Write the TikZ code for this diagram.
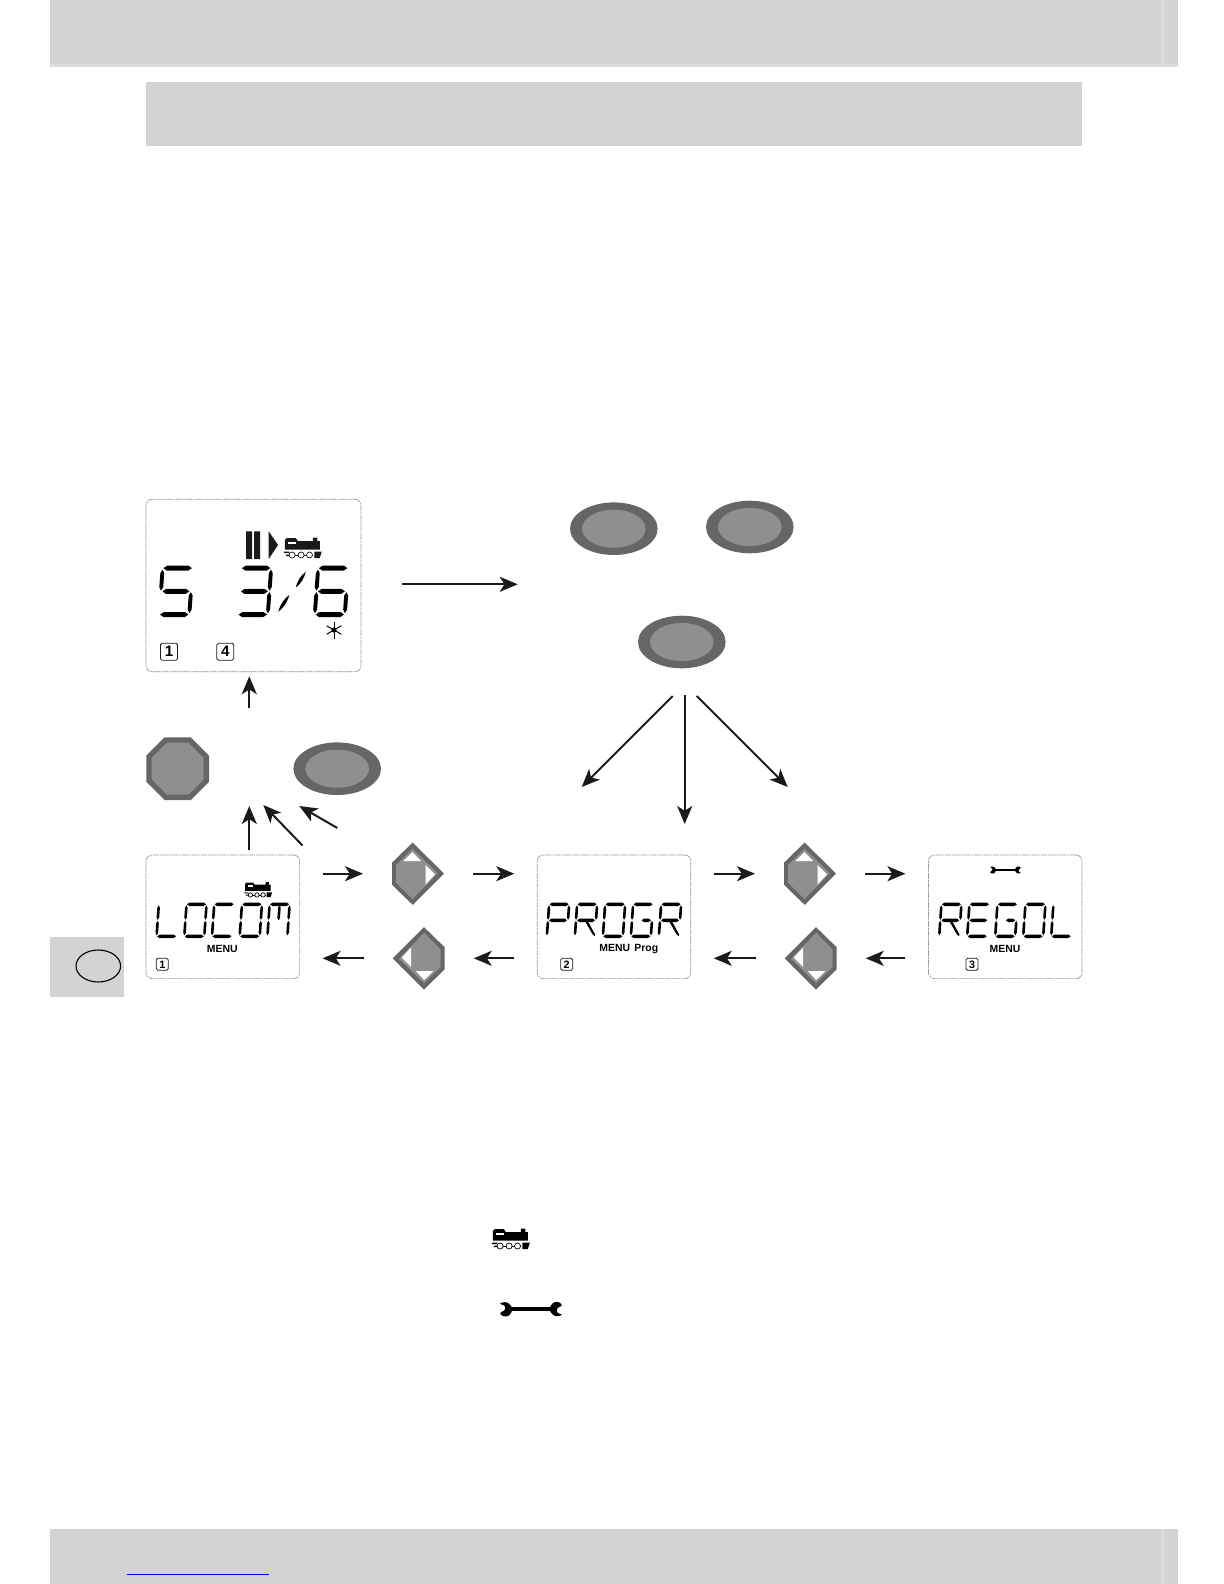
\documentclass[tikz,border=0pt]{standalone}
\usepackage{fontspec}
\setsansfont{Liberation Sans}
\usetikzlibrary{arrows.meta,positioning,shapes.geometric,calc}
\definecolor{band}{HTML}{d3d3d3}
\definecolor{bandlight}{HTML}{dcdcdc}
\definecolor{ink}{HTML}{1a1a1a}
\definecolor{keyrim}{HTML}{666666}
\definecolor{keyface}{HTML}{8f8f8f}
\definecolor{lcdrim}{HTML}{9a9a9a}
\definecolor{linkblue}{HTML}{0000e0}

\newcommand{\segH}[3]{\fill (#1,#3) -- (#1+2.4,#3-1.7) -- (#2-2.4,#3-1.7) -- (#2,#3) -- (#2-2.4,#3+1.7) -- (#1+2.4,#3+1.7) -- cycle;}
\newcommand{\segV}[3]{\fill (#1,#2) -- (#1+1.3,#2+2.4) -- (#1+1.3,#3-2.4) -- (#1,#3) -- (#1-1.3,#3-2.4) -- (#1-1.3,#2+2.4) -- cycle;}
\newcommand{\segA}{\segH{1}{20}{1}}
\newcommand{\segB}{\segV{20.5}{2}{16.5}}
\newcommand{\segC}{\segV{20.5}{17.5}{32}}
\newcommand{\segD}{\segH{1}{20}{33}}
\newcommand{\segE}{\segV{.5}{17.5}{32}}
\newcommand{\segF}{\segV{.5}{2}{16.5}}
\newcommand{\segG}{\segH{1.5}{19.5}{17}}
\newcommand{\segGr}{\segH{10}{19.5}{17}}
\newcommand{\segK}{\fill (10,18.5) -- (12.5,18) -- (20.5,31) -- (20.5,33) -- (18,31) -- cycle;}
\newcommand{\glyphL}{\segF\segE\segD}
\newcommand{\glyphO}{\segA\segB\segC\segD\segE\segF}
\newcommand{\glyphC}{\segA\segD\segE\segF}
\newcommand{\glyphM}{\segA\segB\segC\segE\segF\segV{10.5}{2}{17}}
\newcommand{\glyphP}{\segA\segB\segE\segF\segG}
\newcommand{\glyphR}{\segA\segB\segE\segF\segG\segK}
\newcommand{\glyphG}{\segA\segC\segD\segE\segF\segGr}
\newcommand{\glyphE}{\segA\segD\segE\segF\segG}
\newcommand{\glyphS}{\segA\segC\segD\segF\segG}
\newcommand{\glyphT}{\segA\segB\segC\segD\segG}
\newcommand{\glyphB}{\segA\segC\segD\segE\segF\segG}
\newcommand{\lcdword}[4]{\foreach \ltr/\xx in {#1} {
    \begin{scope}[shift={(\xx,#2)},xscale=#3,yscale=#4,xslant=.07]
      \csname glyph\ltr\endcsname
    \end{scope}}}
\newcommand{\ovalbtn}[2]{\node[ovalrim] (#1) at (#2) {};
  \node[ovalface] at (#1.center) {};}

\tikzset{
  loco/.pic={
    \fill (-18,-8) -- (-16,-10) -- (-7,-10) -- (-5,-7) -- (10,-7) -- (10,-10.5) -- (14.5,-10.5) -- (14.5,-7) -- (17,-7) -- (17,1.5) -- (-18,1.5) -- cycle;
    \fill[white] (-14.5,-6.5) rectangle (-7,-4.5);
    \fill (-19,3.5) rectangle (-13.5,5) (-17,6.5) rectangle (-13.5,8);
    \draw[line width=.3pt] (-13.5,7) -- (10,7);
    \foreach \wx in {-10.7,-1.7,6.7} \draw[line width=.35pt, fill=white] (\wx,7) circle[radius=3];
    \fill (11.5,3.5) -- (19,3.5) -- (17,10) -- (11.5,10) -- cycle;
  },
  spanner/.pic={
    \fill (-20,-2.2) rectangle (20,2.2);
    \foreach \rr in {0,180} {
      \fill[rotate=\rr, rounded corners=.5pt] (-19,-2.2) -- (-23,-6.5) -- (-27,-7.2) -- (-31.5,-5.5) -- (-26,-3.5) -- (-26,1) -- (-31,3.5) -- (-30,6) -- (-26,7.5) -- (-22,6.5) -- (-19,2.2) -- cycle;
    }
  },
  navkey/.pic={
    \node[keybox] (-box) {};
    \fill[keyrim] (-5.3,-31.2) -- (26,0) -- (-5.3,31.2) -- (-26,11) -- (-26,-11) -- cycle;
    \fill[keyface] (-5.5,-25) -- (19.7,-.5) -- (-5.5,25.5) -- (-22,9) -- (-22,-8.7) -- cycle;
    \fill[white] (-5.5,-21.7) -- (-14.7,-12.7) -- (3,-12.7) -- cycle;
    \fill[white] (7.7,-8.7) -- (7.7,10.7) -- (17,.7) -- cycle;
  }
}

\begin{document}
\begin{tikzpicture}[
  x=.5pt, y=-.5pt, >=Stealth,
  arr/.style={->, draw=ink, line width=1pt, >={Stealth[length=9pt,width=7.5pt,inset=2.4pt]}},
  outgap/.style={shorten <=11.3pt, shorten >=14.5pt},
  ingap/.style={shorten <=14.5pt, shorten >=11.3pt},
  lcd/.style={draw=lcdrim, line width=.35pt, rounded corners=3pt, dash pattern=on 3pt off .4pt on 1pt off .4pt, inner sep=0pt},
  keybox/.style={minimum width=26pt, minimum height=31pt, inner sep=0pt, outer sep=0pt},
  ovalrim/.style={ellipse, fill=keyrim, minimum width=43.8pt, minimum height=26.3pt, inner sep=0pt, outer sep=0pt},
  ovalface/.style={ellipse, fill=keyface, minimum width=31.8pt, minimum height=19pt, inner sep=0pt},
  octrim/.style={regular polygon, regular polygon sides=8, fill=keyrim, minimum size=34pt, inner sep=0pt, outer sep=0pt},
  octface/.style={regular polygon, regular polygon sides=8, fill=keyface, minimum size=28.1pt, inner sep=0pt},
  numbox/.style={draw=ink, line width=.4pt, rounded corners=.8pt, minimum size=6pt, inner sep=0pt, font=\sffamily\bfseries\fontsize{5.4}{6}\selectfont},
  bignum/.style={numbox, minimum size=8.5pt, font=\sffamily\bfseries\fontsize{7.6}{8}\selectfont},
  tag/.style={font=\sffamily\bfseries\fontsize{5.2}{6}\selectfont, inner sep=0pt},
  % the segment drawing shows these words; the text itself stays selectable
  lcdtext/.style={text opacity=0, font=\sffamily\fontsize{16}{18}\selectfont, inner sep=0pt}]
  \useasboundingbox (0,0) rectangle (1224,1584);
  \fill[band] (49.5,0) rectangle (1178,67);
  \fill[bandlight] (1161,0) rectangle (1164,64) (49.5,64) rectangle (1178,67);
  \fill[band] (146,82) rectangle (1081.6,146);
  \fill[band] (49.5,1529) rectangle (1178,1584);
  \fill[bandlight] (1161,1529) rectangle (1164,1584);
  \draw[linkblue, line width=.55pt] (127.3,1574.5) -- (269,1574.5);
  \fill[band] (50,936.7) rectangle (124,996.7);
  \node[ellipse, draw=black, line width=.55pt, minimum width=22.3pt, minimum height=16pt, inner sep=0pt] (lang) at (98.3,966) {};

  \node[lcd, minimum width=107.5pt, minimum height=86.2pt] (big) at (253.5,585.5) {};
  \node[lcd, minimum width=76.8pt, minimum height=61.8pt] (locom) at (222.8,916.8) {};
  \node[lcd, minimum width=76.8pt, minimum height=61.8pt] (progr) at (614,916.8) {};
  \node[lcd, minimum width=76.8pt, minimum height=61.8pt] (regol) at (1005.2,916.8) {};

  \fill[ink] (246,531.3) rectangle (252,559) (254,531.3) rectangle (260,559);
  \fill[ink] (268.7,531.3) -- (278,545) -- (268.7,559) -- cycle;
  \pic[ink] at (302.8,548) {loco};
  \lcdword{S/162,T/240.5,B/317.5}{566.7}{1.5}{1.45}
  \fill (305.7,571.7) to[bend left=18] (295.7,587.7) to[bend left=18] (305.7,571.7);
  \fill (289.3,595) to[bend left=18] (278.3,611.7) to[bend left=18] (289.3,595);
  \node[lcdtext] (bigtext) at (253.5,591) {S 3/6};
  \foreach \ang in {90,30,150} \draw[line width=.5pt] ($(334,630)+(\ang:8.5)$) -- ($(334,630)+(\ang+180:8.5)$);
  \fill (334,630) circle[radius=2.6];
  \node[bignum] (pos1) at (169,651.7) {1};
  \node[bignum] (pos4) at (225.3,651.7) {4};

  \pic[scale=.73] at (258.2,889.8) {loco};
  \lcdword{L/158.4,O/186.1,C/213.8,O/241.5,M/269.2}{903.3}{1}{1}
  \node[lcdtext] (locomtext) at (223,920.5) {LOCOM};
  \node[tag] (tag1) at (222.3,949) {MENU};
  \node[numbox] (num1) at (162.3,964.3) {1};

  \lcdword{P/548.7,R/576.7,O/604.7,G/632.7,R/660.7}{903.3}{1}{1}
  \node[lcdtext] (progrtext) at (614,920.5) {PROGR};
  \node[tag] (tag2) at (628.8,949) {MENU\hspace{2.2pt}Prog};
  \node[numbox] (num2) at (566.7,964.3) {2};

  \pic[scale=.5] at (1005.5,870) {spanner};
  \lcdword{R/941,E/969,G/997,O/1025,L/1053}{903.3}{1}{1}
  \node[lcdtext] (regoltext) at (1005,920.5) {REGOL};
  \node[tag] (tag3) at (1005,949) {MENU};
  \node[numbox] (num3) at (972,964.3) {3};

  \ovalbtn{btnA}{613.8,528.7}
  \ovalbtn{btnB}{749.8,527}
  \ovalbtn{btnC}{681.8,642}
  \ovalbtn{btnD}{337.2,768.7}
  \node[octrim] (stop) at (177.7,768.7) {};
  \node[octface] at (stop.center) {};

  \pic (up1) at (418,873.7) {navkey};
  \pic[rotate=180] (down1) at (418.7,958.3) {navkey};
  \pic (up2) at (810,873.7) {navkey};
  \pic[rotate=180] (down2) at (810.7,958.3) {navkey};

  \pic at (510.8,1239) {loco};
  \pic at (531,1309.2) {spanner};

  \coordinate (fwd) at (517.7,584.3);
  \coordinate (hubTop) at (249.3,707.7);
  \coordinate (hubUp) at (249.3,806);
  \coordinate (hubL) at (263.3,805);
  \coordinate (hubLs) at (302.5,845.5);
  \coordinate (hubR) at (299.3,806);
  \coordinate (hubRs) at (337.3,828);
  \coordinate (fanL) at (581.7,787);
  \coordinate (fanLs) at (672.7,696);
  \coordinate (fanM) at (684.7,824);
  \coordinate (fanMs) at (684.7,695);
  \coordinate (fanR) at (787.7,787);
  \coordinate (fanRs) at (696.7,696);

  \draw[arr, shorten <=20.5pt] (big.east |- fwd) -- (fwd);
  \draw[arr, shorten >=2.1pt] (hubTop) -- (hubTop |- big.south);
  \draw[arr, shorten <=2.5pt] (hubUp |- locom.north) -- (hubUp);
  \draw[arr] (hubLs) -- (hubL);
  \draw[arr] (hubRs) -- (hubR);
  \draw[arr] (fanLs) -- (fanL);
  \draw[arr] (fanMs) -- (fanM);
  \draw[arr] (fanRs) -- (fanR);
  \draw[arr, outgap] (locom.east |- up1-box.west) -- (up1-box.west);
  \draw[arr, ingap] (up1-box.east) -- (progr.west |- up1-box.east);
  \draw[arr, outgap] (progr.east |- up2-box.west) -- (up2-box.west);
  \draw[arr, ingap] (up2-box.east) -- (regol.west |- up2-box.east);
  \draw[arr, outgap] (regol.west |- down2-box.east) -- (down2-box.east);
  \draw[arr, ingap] (down2-box.west) -- (progr.east |- down2-box.west);
  \draw[arr, outgap] (progr.west |- down1-box.east) -- (down1-box.east);
  \draw[arr, ingap] (down1-box.west) -- (locom.east |- down1-box.west);
\end{tikzpicture}
\end{document}
